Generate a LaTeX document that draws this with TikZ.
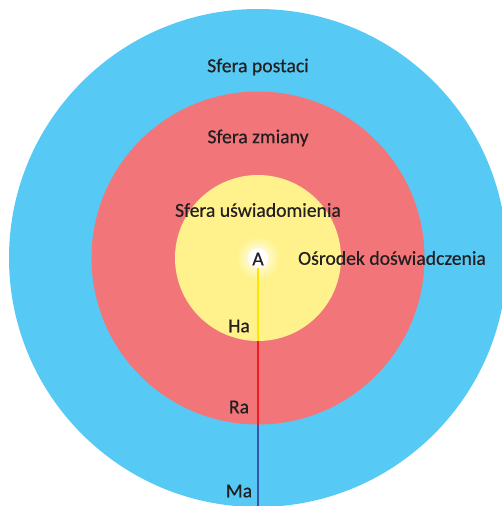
\documentclass[tikz,border=0pt]{standalone}
\usepackage{fontspec}
\setmainfont[FakeBold=0.5]{Carlito}
\definecolor{bluec}{HTML}{56CAF5}
\definecolor{redc}{HTML}{F27679}
\definecolor{yellowc}{HTML}{FFF28C}
\definecolor{txt}{HTML}{231F20}
\definecolor{lineY}{HTML}{FFE400}
\definecolor{lineR}{HTML}{EE1C25}
\definecolor{lineB}{HTML}{3A55A8}
\begin{document}
\begin{tikzpicture}[x=1pt,y=-1pt,
  lbl/.style={text=txt,font=\fontsize{19.7}{22}\selectfont,inner sep=0pt},
  seg/.style={line width=1.4pt}]
\useasboundingbox (0,0) rectangle (502,506);
\begin{scope}
\clip (0,0) rectangle (502,506);
\fill[bluec] (258,258) circle[radius=249];
\fill[redc] (258,258) circle[radius=166.5];
\fill[yellowc] (258,258) circle[radius=83];
\shade[inner color=white,outer color=yellowc] (258,258) circle[radius=22];
\fill[white] (258,258) circle[radius=10];
\end{scope}
\coordinate (c) at (258,268);
\coordinate (yb) at (258,341);
\coordinate (rb) at (258,425);
\coordinate (bb) at (258,506);
\draw[seg,lineY] (c) -- (yb);
\draw[seg,lineR] (yb) -- (rb);
\draw[seg,lineB] (rb) -- (bb);
\node[lbl] (sp) at (258,67) {Sfera postaci};
\node[lbl] (sz) at (258,138) {Sfera zmiany};
\node[lbl] (su) at (258,210) {Sfera uświadomienia};
\node[lbl] (a) at (258,259) {A};
\node[lbl] (od) at (392,258) {Ośrodek doświadczenia};
\node[lbl] (ha) at (239,326) {Ha};
\node[lbl] (ra) at (239,407) {Ra};
\node[lbl] (ma) at (239,491) {Ma};
\end{tikzpicture}
\end{document}
